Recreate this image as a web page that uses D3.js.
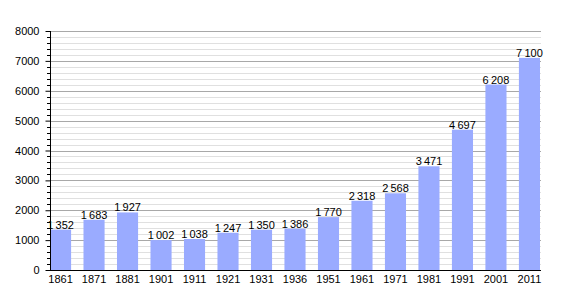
<!DOCTYPE html>
<html><head><meta charset="utf-8">
<script src="https://cdn.jsdelivr.net/npm/d3@7"></script>
<style>body{margin:0;background:#fff}svg{display:block}</style>
</head><body>
<svg id="c" width="570" height="300"></svg>
<script>
const years = ["1861","1871","1881","1901","1911","1921","1931","1936","1951","1961","1971","1981","1991","2001","2011"];
const population = [1352,1683,1927,1002,1038,1247,1350,1386,1770,2318,2568,3471,4697,6208,7100];
const yTicks = [0,1000,2000,3000,4000,5000,6000,7000,8000];

const svg = d3.select("#c");
const L = 50, R = 540, T = 31, B = 270;
const x = d3.scaleBand().domain(years).range([L, R]).paddingInner(0.37).paddingOuter(0);
const y = d3.scaleLinear().domain([0, 8000]).range([B, T]);
const font = "Liberation Sans, Arial, sans-serif";

const minor = d3.range(0, 8001, 200).filter(v => v % 1000 !== 0);
svg.append("g").selectAll("line").data(minor).join("line")
  .attr("x1", L).attr("x2", R + 1)
  .attr("y1", d => Math.round(y(d)) + 0.5).attr("y2", d => Math.round(y(d)) + 0.5)
  .attr("stroke", "#e0e0e0").attr("stroke-width", 1);
svg.append("g").selectAll("line").data(yTicks.filter(v => v > 0)).join("line")
  .attr("x1", L).attr("x2", R + 1)
  .attr("y1", d => Math.round(y(d)) + 0.5).attr("y2", d => Math.round(y(d)) + 0.5)
  .attr("stroke", "#a8a8a8").attr("stroke-width", 1);

// minor ticks on y axis
svg.append("g").selectAll("line").data(minor).join("line")
  .attr("x1", L - 3).attr("x2", L)
  .attr("y1", d => Math.round(y(d)) + 0.5).attr("y2", d => Math.round(y(d)) + 0.5)
  .attr("stroke", "#000");

// bars
svg.append("g").selectAll("rect").data(years).join("rect")
  .attr("x", d => x(d)).attr("width", x.bandwidth())
  .attr("y", (d, i) => y(population[i])).attr("height", (d, i) => B - y(population[i]))
  .attr("fill", "#9aabff");

// y axis
const ya = svg.append("g").attr("transform", `translate(${L + 0.5},0)`)
  .call(d3.axisLeft(y).tickValues(yTicks).tickSize(5).tickPadding(6).tickFormat(d3.format("d")));
ya.select(".domain").attr("d", `M0,${T}V${B + 0.5}`).attr("stroke", "#000");
ya.selectAll("text").attr("font-family", font).attr("font-size", 11).attr("fill", "#000");

// x axis
const xa = svg.append("g").attr("transform", `translate(0,${B + 0.5})`)
  .call(d3.axisBottom(x).tickSize(0).tickPadding(5));
xa.select(".domain").attr("d", `M${L},0H${R + 1}`).attr("stroke", "#000");
xa.selectAll("text").attr("font-family", font).attr("font-size", 11).attr("fill", "#000");

// value labels (on top)
const fmt = v => d3.format(",")(v).replace(/,/g, "\u2009");
svg.append("g").selectAll("text").data(years).join("text")
  .attr("x", d => x(d) + x.bandwidth() / 2)
  .attr("y", (d, i) => y(population[i]) - 1)
  .attr("text-anchor", "middle")
  .attr("font-family", font).attr("font-size", 11).attr("fill", "#000")
  .text((d, i) => fmt(population[i]));
</script>
</body></html>
